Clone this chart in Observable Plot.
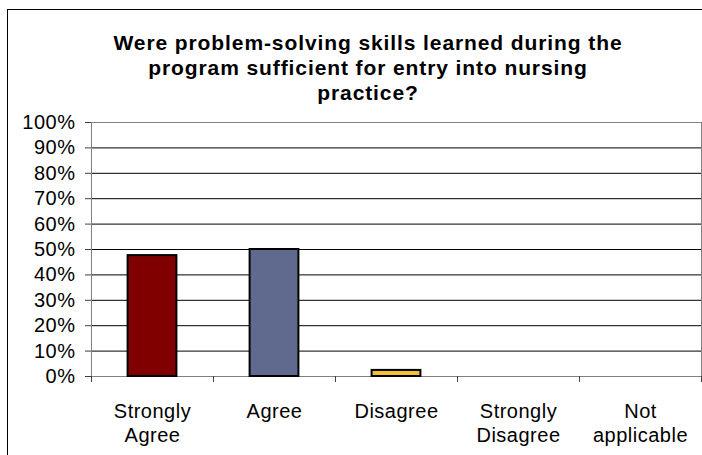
<!DOCTYPE html>
<html><head><meta charset="utf-8">
<script src="https://cdn.jsdelivr.net/npm/d3@7"></script>
<script src="https://cdn.jsdelivr.net/npm/@observablehq/plot@0.6"></script>
<style>
body{margin:0;background:#fff;}
#wrap{position:relative;width:702px;height:455px;overflow:hidden;background:#fff;font-family:"Liberation Sans",Arial,sans-serif;}
#border{position:absolute;left:7px;top:9px;width:800px;height:600px;border:1px solid #000;box-sizing:border-box;pointer-events:none;}
#title{position:relative;width:702px;height:112px;box-sizing:border-box;padding-top:30px;padding-left:34px;text-align:center;font-weight:bold;font-size:21px;line-height:25px;letter-spacing:0.9px;color:#000;}
#chart svg{display:block;letter-spacing:0.5px;}
</style>
</head><body>
<div id="wrap">
<div id="border"></div>
<div id="title"><div>Were problem-solving skills learned during the</div><div>program sufficient for entry into nursing</div><div>practice?</div></div>
<div id="chart"></div>
</div>
<script>
const categories = ["Strongly Agree","Agree","Disagree","Strongly Disagree","Not applicable"];
const tickLabels = ["Strongly\nAgree","Agree","Disagree","Strongly\nDisagree","Not\napplicable"];
const values = [47.6, 50.0, 2.4, 0, 0];
const colors = ["#800000","#606a8e","#f0c03c","#9999ff","#993366"];
const yTicks = [0,10,20,30,40,50,60,70,80,90,100];

const data = categories.map((c,i)=>({category:c, value:values[i], color:colors[i]}));
const W = 702, H = 343, mL = 91, mR = 1, mT = 10, mB = 79;
const step = (W - mL - mR) / categories.length;
const barInset = step * 0.3;

const chart = Plot.plot({
  width: W, height: H,
  marginLeft: mL, marginRight: mR, marginTop: mT, marginBottom: mB,
  style: {fontFamily: '"Liberation Sans", Arial, sans-serif', fontSize: "20px", color: "#000", background: "transparent"},
  x: {domain: categories, padding: 0},
  y: {domain: [0, 100]},
  marks: [
    Plot.gridY(yTicks.filter(d => d > 0 && d < 100), {stroke: "#000", strokeOpacity: 1}),
    Plot.frame({stroke: "#808080"}),
    Plot.barY(data.filter(d => d.value > 0), {x: "category", y: "value", fill: "color", stroke: "#000", strokeWidth: 2, insetLeft: barInset, insetRight: barInset}),
    Plot.axisY({ticks: yTicks, tickFormat: d => d + "%", tickSize: 6, tickPadding: 10, fontSize: 20, stroke: "#404040", fill: "#000", label: null}),
    Plot.ruleX(categories, {x: d => d, y1: 0, y2: 0, insetBottom: -6, dx: -step/2, stroke: "#404040"}),
    Plot.ruleX(categories.slice(-1), {x: d => d, y1: 0, y2: 0, insetBottom: -6, dx: step/2, stroke: "#404040"}),
    Plot.axisX({tickSize: 0, tickPadding: 24, fontSize: 20, lineHeight: 1.2, fill: "#000", label: null,
      tickFormat: d => tickLabels[categories.indexOf(d)]})
  ]
});
document.getElementById("chart").appendChild(chart);
</script>
</body></html>
